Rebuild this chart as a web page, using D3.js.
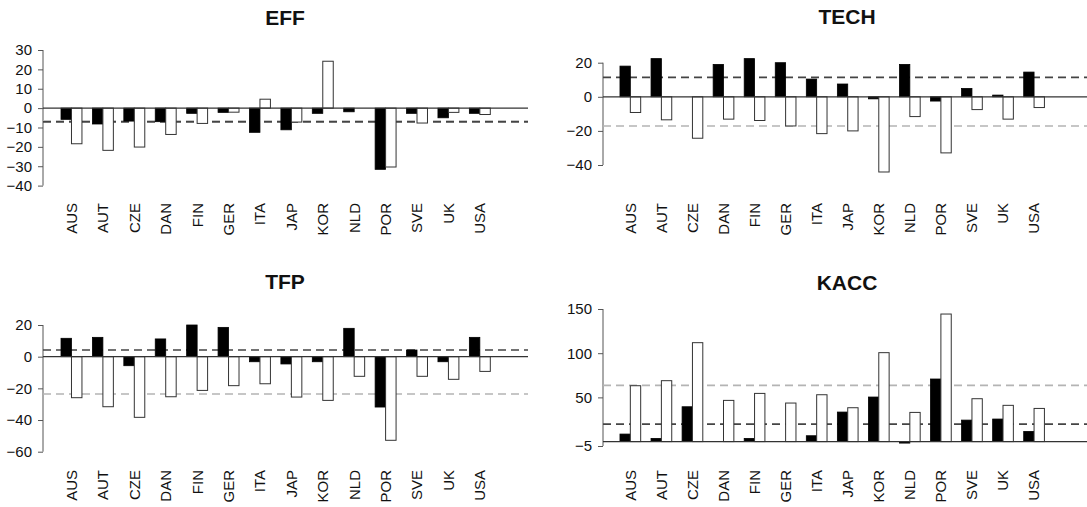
<!DOCTYPE html>
<html>
<head>
<meta charset="utf-8">
<script src="https://cdn.jsdelivr.net/npm/d3@7"></script>
<style>
  body { margin: 0; background: #fff; }
  svg text { font-family: "Liberation Sans", Arial, sans-serif; fill: #111; }
</style>
</head>
<body>
<div id="chart"></div>
<script>
// countries on the x axis (same for all four panels)
var countries = ["AUS","AUT","CZE","DAN","FIN","GER","ITA","JAP","KOR","NLD","POR","SVE","UK","USA"];

// EFF
var effBlack = [-5.8, -8.2, -6.7, -7.0, -2.7, -2.2, -12.5, -11.2, -2.7, -1.9, -31.6, -2.7, -5.0, -2.7];
var effWhite = [-18.4, -21.8, -20.1, -13.6, -7.9, -2.1, 4.6, -7.2, 24.2, 0, -30.4, -7.7, -2.2, -3.3];
var effRef = [-7.1, -6.7];          // [dark dashed, grey dashed]
var effTicks = [30, 20, 10, 0, -10, -20, -30, -40];

// TECH
var techBlack = [18.0, 22.4, 0, 19.0, 22.4, 20.0, 10.4, 7.5, -1.2, 19.0, -2.5, 4.9, 1.0, 14.5];
var techWhite = [-9.2, -13.5, -24.3, -13.1, -13.9, -17.1, -21.6, -20.0, -44.1, -11.6, -32.9, -7.5, -13.1, -6.3];
var techRef = [11.4, -17.1];
var techTicks = [20, 0, -20, -40];

// TFP
var tfpBlack = [11.6, 12.2, -5.7, 11.2, 20.0, 18.5, -3.2, -4.6, -3.2, 17.9, -31.8, 4.2, -3.2, 12.2];
var tfpWhite = [-25.9, -31.6, -38.3, -25.3, -21.3, -18.3, -17.1, -25.5, -27.6, -12.4, -52.8, -12.4, -14.3, -9.3];
var tfpRef = [4.2, -23.6];
var tfpTicks = [20, 0, -20, -40, -60];

// KACC
var kaccBlack = [8.5, 3.6, 39.4, 0, 3.6, 0, 6.6, 33.4, 50.4, -1.7, 70.8, 24.3, 25.5, 11.5];
var kaccWhite = [63.2, 68.9, 111.9, 46.6, 54.5, 43.6, 53.0, 38.3, 100.6, 33.0, 144.3, 48.5, 41.0, 37.5];
var kaccRef = [19.8, 63.6];
var kaccTicks = [150, 100, 50, -5];

var width = 1087, height = 507;

var svg = d3.select("#chart")
  .append("svg")
    .attr("width", width)
    .attr("height", height);

// panel layout (pixel placement only)
var panels = [
  {title: "EFF",  black: effBlack,  white: effWhite,  ref: effRef,  ticks: effTicks,
   x0: 43,  x1: 528,  u: [-0.72, 45.6], yR: [50, 185.6],  yD: [30, -40],  titleX: 285, titleY: 25,  labelY: 203},
  {title: "TECH", black: techBlack, white: techWhite, ref: techRef, ticks: techTicks,
   x0: 603, x1: 1091, u: [-0.64, 46.5], yR: [62.7, 165],  yD: [20, -40],  titleX: 847, titleY: 24,  labelY: 203},
  {title: "TFP",  black: tfpBlack,  white: tfpWhite,  ref: tfpRef,  ticks: tfpTicks,
   x0: 43,  x1: 528,  u: [-0.72, 45.6], yR: [325, 451.7], yD: [20, -60],  titleX: 285, titleY: 289, labelY: 470},
  {title: "KACC", black: kaccBlack, white: kaccWhite, ref: kaccRef, ticks: kaccTicks,
   x0: 603, x1: 1091, u: [-0.64, 46.5], yR: [309, 446],   yD: [150, -5],  titleX: 847, titleY: 290, labelY: 470}
];

panels.forEach(function(p) {
  var g = svg.append("g");

  // x in "bar units": each country = 1 space + black bar + white bar
  var x = d3.scaleLinear().domain(p.u).range([p.x0, p.x1]);
  var y = d3.scaleLinear().domain(p.yD).range(p.yR);

  // title
  g.append("text")
    .attr("x", p.titleX)
    .attr("y", p.titleY)
    .attr("text-anchor", "middle")
    .style("font-size", "21px")
    .style("font-weight", "bold")
    .text(p.title);

  // y axis
  var ax = g.append("g")
    .attr("transform", "translate(" + p.x0 + ",0)")
    .call(d3.axisLeft(y).tickValues(p.ticks).tickSize(5).tickSizeOuter(0).tickPadding(6)
      .tickFormat(d3.format("d")));
  ax.selectAll("path, line").attr("stroke", "#555");
  ax.selectAll("text").style("font-size", "15px").attr("fill", "#111");
  ax.select(".domain").attr("d", "M0," + y(p.ticks[0]) + "V" + y(p.ticks[p.ticks.length - 1]));

  // dashed reference lines
  g.append("line")
    .attr("x1", p.x0).attr("x2", p.x1)
    .attr("y1", y(p.ref[1])).attr("y2", y(p.ref[1]))
    .attr("stroke", "#b4b4b4").attr("stroke-width", 1.6)
    .attr("stroke-dasharray", "8,5");
  g.append("line")
    .attr("x1", p.x0).attr("x2", p.x1)
    .attr("y1", y(p.ref[0])).attr("y2", y(p.ref[0]))
    .attr("stroke", "#444").attr("stroke-width", 1.6)
    .attr("stroke-dasharray", "8,5");

  // bars
  countries.forEach(function(c, i) {
    var vb = p.black[i], vw = p.white[i];
    g.append("rect")
      .attr("x", x(3 * i + 1))
      .attr("width", x(3 * i + 2) - x(3 * i + 1))
      .attr("y", y(Math.max(vb, 0)))
      .attr("height", Math.abs(y(vb) - y(0)))
      .attr("fill", "#000")
      .attr("stroke", "#000")
      .attr("stroke-width", 0.8);
    g.append("rect")
      .attr("x", x(3 * i + 2))
      .attr("width", x(3 * i + 3) - x(3 * i + 2))
      .attr("y", y(Math.max(vw, 0)))
      .attr("height", Math.abs(y(vw) - y(0)))
      .attr("fill", "#fff")
      .attr("stroke", "#333")
      .attr("stroke-width", 1);
  });

  // zero line
  g.append("line")
    .attr("x1", p.x0).attr("x2", p.x1)
    .attr("y1", y(0)).attr("y2", y(0))
    .attr("stroke", "#333").attr("stroke-width", 1.2);

  // country labels, rotated
  g.selectAll(".lab")
    .data(countries)
    .enter()
    .append("text")
      .attr("transform", function(d, i) {
        return "translate(" + x(3 * i + 2) + "," + p.labelY + ") rotate(-90)";
      })
      .attr("text-anchor", "end")
      .attr("dy", "0.36em")
      .style("font-size", "15px")
      .text(function(d) { return d; });
});
</script>
</body>
</html>
